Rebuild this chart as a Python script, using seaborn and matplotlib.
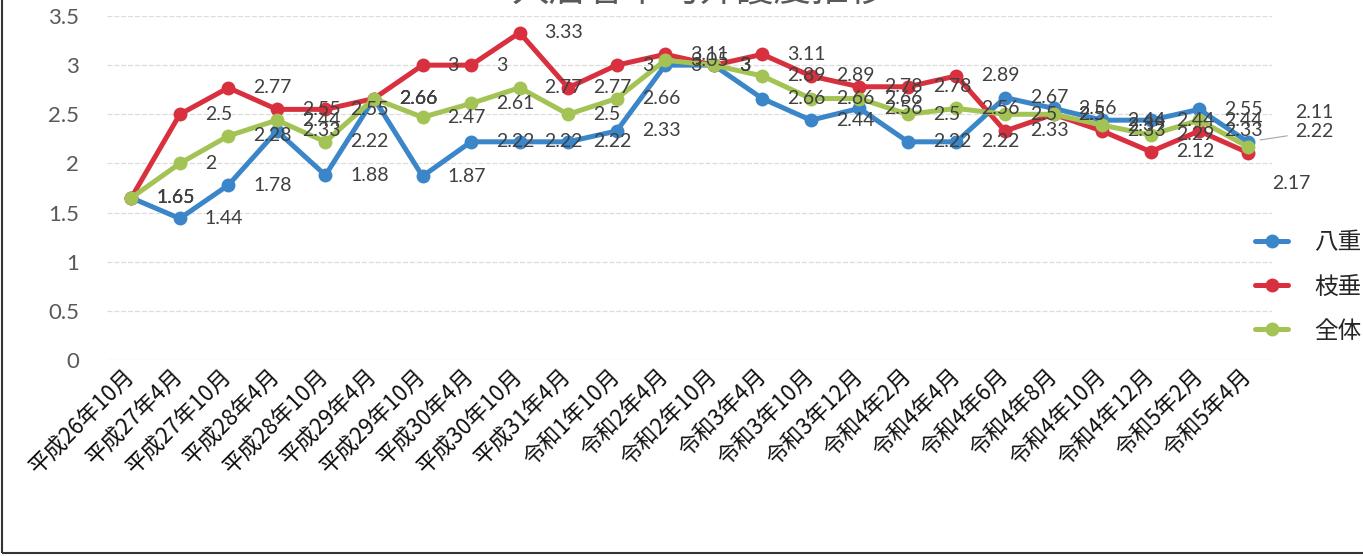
import matplotlib
matplotlib.use('Agg')
import matplotlib.pyplot as plt
import seaborn as sns
import pandas as pd
import numpy as np
from matplotlib.lines import Line2D
from matplotlib.patches import Rectangle

# survey months (category axis)
months = ['平成26年10月', '平成27年4月', '平成27年10月', '平成28年4月', '平成28年10月',
          '平成29年4月', '平成29年10月', '平成30年4月', '平成30年10月', '平成31年4月',
          '令和1年10月', '令和2年4月', '令和2年10月', '令和3年4月', '令和3年10月',
          '令和3年12月', '令和4年2月', '令和4年4月', '令和4年6月', '令和4年8月',
          '令和4年10月', '令和4年12月', '令和5年2月', '令和5年4月']

yae = [1.65, 1.44, 1.78, 2.33, 1.88, 2.66, 1.87, 2.22, 2.22, 2.22, 2.33, 3.0,
       3.0, 2.66, 2.44, 2.56, 2.22, 2.22, 2.67, 2.56, 2.44, 2.44, 2.55, 2.22]
shidare = [1.65, 2.5, 2.77, 2.55, 2.55, 2.66, 3.0, 3.0, 3.33, 2.77, 3.0, 3.11,
           3.0, 3.11, 2.89, 2.78, 2.78, 2.89, 2.33, 2.5, 2.33, 2.12, 2.33, 2.11]
zentai = [1.65, 2.0, 2.28, 2.44, 2.22, 2.66, 2.47, 2.61, 2.77, 2.5, 2.66, 3.05,
          3.0, 2.89, 2.66, 2.66, 2.5, 2.56, 2.5, 2.5, 2.39, 2.29, 2.44, 2.17]

series_names = ['八重', '枝垂', '全体']
colors = ['#3b86c9', '#d8303e', '#a3c355']
title = '入居者平均介護度推移'

# last point labels were moved by hand in the original (pixel offsets)
last_offsets = {'八重': (47, 10), '枝垂': (47, 40), '全体': (24, -37)}

sns.set_style('white')
plt.rcParams['font.family'] = ['Lato', 'Noto Sans CJK JP', 'DejaVu Sans']

n = len(months)
df = pd.DataFrame({
    'idx': list(range(n)) * 3,
    'value': yae + shidare + zentai,
    'series': [s for s in series_names for _ in range(n)],
})

fig = plt.figure(figsize=(13.63, 5.56), dpi=100)
ax = fig.add_axes([107 / 1363, 1 - 360 / 556, (1272 - 107) / 1363, (360 - 16) / 556])

sns.lineplot(data=df, x='idx', y='value', hue='series', hue_order=series_names,
             palette=colors, marker='o', markersize=10, markeredgewidth=0,
             linewidth=3.6, sort=False, legend=False, ax=ax)

ax.set_xlim(-0.5, n - 0.5)
ax.set_ylim(0, 3.5)
ax.set_yticks(np.arange(0, 3.51, 0.5))
ax.set_yticklabels([f'{t:g}' for t in np.arange(0, 3.51, 0.5)])
ax.set_xticks(range(n))
ax.set_xticklabels(months, rotation=45, ha='right', va='center',
                   rotation_mode='anchor', family=['Noto Sans CJK JP'], fontsize=16)
ax.tick_params(axis='y', length=0, pad=20, labelsize=16, labelcolor='#595959')
ax.tick_params(axis='x', length=0, pad=9, labelcolor='#111111')
ax.set_xlabel('')
ax.set_ylabel('')
ax.yaxis.grid(True, color='#dcdcdc', lw=0.9, ls=(0, (4, 1.5)))
ax.xaxis.grid(False)
for sp in ax.spines.values():
    sp.set_visible(False)

# data labels
for name, vals in zip(series_names, [yae, shidare, zentai]):
    for i, v in enumerate(vals):
        if i == n - 1:
            dx, dy = last_offsets[name]
            arrow = None
            if name == '八重':
                arrow = dict(arrowstyle='-', color='#a6a6a6', lw=0.8, shrinkA=3, shrinkB=9)
            ax.annotate(f'{v:g}', (i, v), xytext=(dx, dy), textcoords='offset pixels',
                        ha='left', va='center', fontsize=14, color='#404040',
                        arrowprops=arrow, annotation_clip=False)
        else:
            ax.annotate(f'{v:g}', (i, v), xytext=(25, 0), textcoords='offset pixels',
                        ha='left', va='center', fontsize=14, color='#404040')

# legend
handles = [Line2D([0], [0], color=c, lw=3.6, marker='o', markersize=10,
                  markeredgewidth=0) for c in colors]
ax.legend(handles, series_names, loc='center left', bbox_to_anchor=(1255 / 1363, 1 - 287 / 556),
          bbox_transform=fig.transFigure, frameon=False, borderpad=0, borderaxespad=0,
          handlelength=1.4, handletextpad=1.1, labelspacing=0.9,
          prop={'family': ['Noto Sans CJK JP'], 'size': 17})

# title, cut off at the top of the scan
fig.text(0.513, 1.016, title, ha='center', va='center', fontsize=27, color='#595959',
         family=['Noto Sans CJK JP'])

# scanned frame
fig.add_artist(Rectangle((0.0015, 0.0054), 1.5, 1.5, transform=fig.transFigure,
                         fill=False, edgecolor='#333333', lw=1.5))

fig.savefig('out.png', dpi=100)
